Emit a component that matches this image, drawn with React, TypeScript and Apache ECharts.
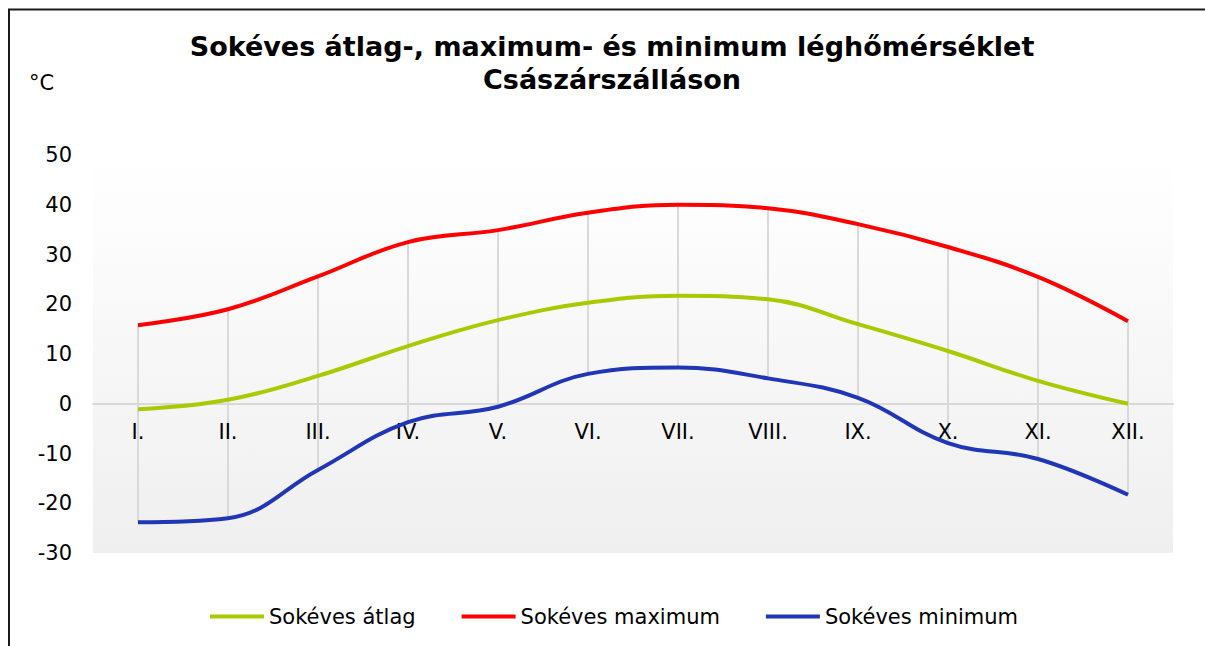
import React, { useEffect, useRef } from "react";
import * as echarts from "echarts";

const months = ["I.", "II.", "III.", "IV.", "V.", "VI.", "VII.", "VIII.", "IX.", "X.", "XI.", "XII."];
const avgVals = [-1.1, 0.8, 5.6, 11.6, 16.8, 20.3, 21.7, 21.0, 16.0, 10.6, 4.6, 0.0];
const maxVals = [15.8, 19.0, 25.6, 32.5, 34.9, 38.4, 40.0, 39.3, 36.1, 31.5, 25.5, 16.6];
const minVals = [-23.8, -23.0, -13.3, -3.7, -0.6, 6.0, 7.3, 5.1, 1.2, -7.9, -11.1, -18.3];
const yTicks = { min: -30, max: 50, interval: 10 };
const titleText = "Sokéves átlag-, maximum- és minimum léghőmérséklet\nCsászárszálláson";
const unitText = "°C";
const seriesNames = ["Sokéves átlag", "Sokéves maximum", "Sokéves minimum"];
const colors = ["#a9c900", "#ff0000", "#1f36b6"];

export default function App() {
  const ref = useRef<HTMLDivElement>(null);
  useEffect(() => {
    if (!ref.current) return;
    const chart = echarts.init(ref.current, undefined, { renderer: "svg" });
    const font = "DejaVu Sans, Verdana, sans-serif";
    const gridTop = 155;
    const gridBottom = 93;
    const plotH = 646 - gridTop - gridBottom;
    const zeroOffset = -(plotH * (0 - yTicks.min)) / (yTicks.max - yTicks.min);
    chart.setOption({
      animation: false,
      backgroundColor: "#ffffff",
      textStyle: { fontFamily: font },
      title: {
        text: titleText,
        left: 612,
        top: 30,
        textAlign: "center",
        padding: 0,
        textStyle: { fontFamily: font, fontWeight: "bold", fontSize: 27, lineHeight: 33, color: "#000" },
      },
      graphic: [
        {
          type: "rect",
          shape: { x: 9, y: 9.5, width: 1300, height: 700 },
          style: { fill: "none", stroke: "#1a1a1a", lineWidth: 2 },
          silent: true,
        },
        {
          type: "text",
          x: 29,
          y: 83,
          style: { text: unitText, fontFamily: font, fontSize: 21, fill: "#000", textVerticalAlign: "middle" },
        },
      ],
      legend: {
        top: 606,
        left: 210,
        padding: 0,
        icon: "rect",
        itemWidth: 54,
        itemHeight: 4,
        itemGap: 46,
        data: seriesNames,
        textStyle: { fontFamily: font, fontSize: 21, color: "#000" },
      },
      grid: {
        left: 93,
        right: 32,
        top: gridTop,
        bottom: gridBottom,
        show: true,
        borderWidth: 0,
        backgroundColor: new echarts.graphic.LinearGradient(0, 0, 0, 1, [
          { offset: 0, color: "#ffffff" },
          { offset: 1, color: "#efefef" },
        ]),
      },
      xAxis: {
        type: "category",
        data: months,
        boundaryGap: true,
        position: "bottom",
        offset: zeroOffset,
        z: 2,
        axisLine: { onZero: false, lineStyle: { color: "#d9d9d9", width: 2 } },
        axisTick: { show: false },
        axisLabel: { fontFamily: font, fontSize: 21, color: "#000", margin: 18 },
        splitLine: { show: false },
      },
      yAxis: {
        type: "value",
        min: yTicks.min,
        max: yTicks.max,
        interval: yTicks.interval,
        axisLine: { show: false },
        axisTick: { show: false },
        splitLine: { show: false },
        axisLabel: { fontFamily: font, fontSize: 21, color: "#000", margin: 21 },
      },
      series: [
        {
          type: "custom",
          silent: true,
          z: 1,
          renderItem: (params: any, api: any) => {
            const x = api.value(0);
            const p1 = api.coord([x, api.value(1)]);
            const p2 = api.coord([x, api.value(2)]);
            return {
              type: "line",
              shape: { x1: p1[0], y1: p1[1], x2: p2[0], y2: p2[1] },
              style: { stroke: "#d9d9d9", lineWidth: 2 },
            };
          },
          data: months.map((_, i) => [i, minVals[i], maxVals[i]]),
        },
        {
          name: seriesNames[0],
          type: "line",
          data: avgVals,
          smooth: 0.4,
          showSymbol: false,
          z: 3,
          lineStyle: { color: colors[0], width: 4 },
          itemStyle: { color: colors[0] },
        },
        {
          name: seriesNames[1],
          type: "line",
          data: maxVals,
          smooth: 0.4,
          showSymbol: false,
          z: 3,
          lineStyle: { color: colors[1], width: 4 },
          itemStyle: { color: colors[1] },
        },
        {
          name: seriesNames[2],
          type: "line",
          data: minVals,
          smooth: 0.4,
          showSymbol: false,
          z: 3,
          lineStyle: { color: colors[2], width: 4 },
          itemStyle: { color: colors[2] },
        },
      ],
    });
    return () => chart.dispose();
  }, []);
  return <div ref={ref} style={{ position: "fixed", left: 0, top: 0, width: 1205, height: 646 }} />;
}
